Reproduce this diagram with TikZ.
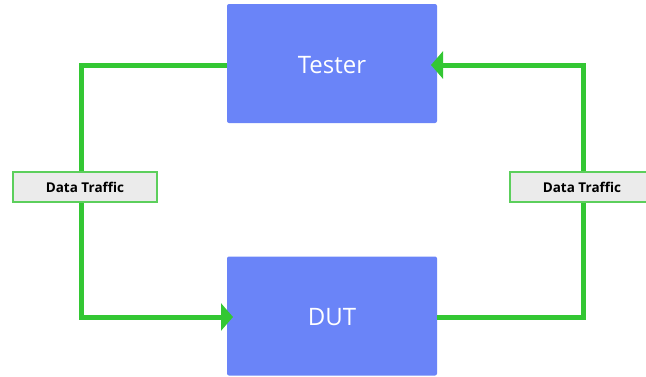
\documentclass[tikz,border=0pt]{standalone}
\usepackage{fontspec}
\setmainfont{Open Sans}
\usetikzlibrary{arrows.meta}
\definecolor{boxblue}{HTML}{6A84F8}
\definecolor{flowgreen}{HTML}{33C733}
\definecolor{tagfill}{HTML}{EBEBEB}
\definecolor{tagline}{HTML}{5CCF5C}
\tikzset{
  unit/.style={rectangle, rounded corners=2pt, fill=boxblue, text=white,
    minimum width=210pt, minimum height=119pt, font=\fontsize{24}{28}\selectfont, inner sep=0pt},
  unittext/.style={text=white, font=\fontsize{24}{28}\selectfont, inner sep=0pt},
  tag/.style={rectangle, fill=tagfill, draw=tagline, line width=1.2pt,
    minimum width=144pt, minimum height=30pt, inner sep=0pt,
    font=\bfseries\fontsize{13.5}{16}\selectfont},
  flow/.style={draw=flowgreen, line width=5pt},
  flowtip/.style={-{Triangle[length=12pt, width=27pt]}}
}
\begin{document}
\begin{tikzpicture}[x=1pt, y=-1pt]
  \useasboundingbox (0,0) rectangle (646,376);
  \clip (0,0) rectangle (646,376);
  % the two units
  \node[unit] (tester) at (332,63.5) {};
  \node[unittext] (testerlabel) at (332,65.5) {Tester};
  \node[unit] (dut) at (332,316) {};
  \node[unittext] (dutlabel) at (332,317) {DUT};
  % corner points of the loop
  \coordinate (lt) at (81,65);
  \coordinate (lb) at (81,317);
  \coordinate (rb) at (583,317);
  \coordinate (rt) at (583,65);
  \coordinate (dutin) at (233,317);
  \coordinate (testin) at (431,65);
  % traffic loop
  \draw[flow, flowtip] (tester.west |- lt) -- (lt) -- (lb) -- (dutin);
  \draw[flow, flowtip] (dut.east |- rb) -- (rb) -- (rt) -- (testin);
  % labels on the vertical runs
  \node[tag] (lefttag) at (85,187) {Data Traffic};
  \node[tag] (righttag) at (582,187) {Data Traffic};
\end{tikzpicture}
\end{document}
